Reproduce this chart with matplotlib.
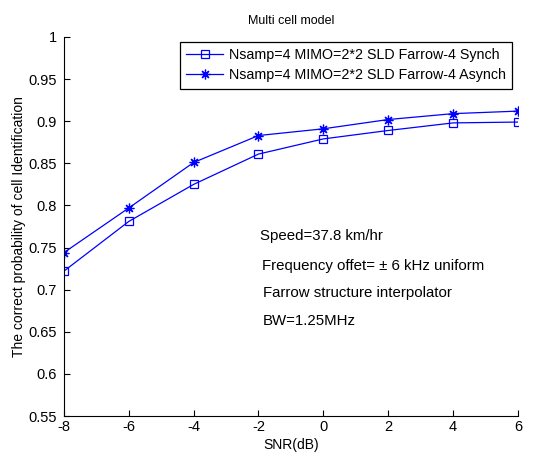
import numpy as np
import matplotlib
matplotlib.use("Agg")
import matplotlib.pyplot as plt

plt.rcParams['font.family'] = ['Liberation Sans', 'DejaVu Sans']
plt.rcParams['axes.unicode_minus'] = False

# valeurs
snr = [-8, -6, -4, -2, 0, 2, 4, 6]
synch = [0.722, 0.781, 0.825, 0.861, 0.879, 0.889, 0.898, 0.899]
asynch = [0.744, 0.797, 0.851, 0.883, 0.891, 0.902, 0.909, 0.912]
labels = ["Nsamp=4 MIMO=2*2 SLD Farrow-4 Synch",
          "Nsamp=4 MIMO=2*2 SLD Farrow-4 Asynch"]
xticks = [-8, -6, -4, -2, 0, 2, 4, 6]
yticks = [0.55, 0.6, 0.65, 0.7, 0.75, 0.8, 0.85, 0.9, 0.95, 1]
notes = ["Speed=37.8 km/hr",
         "Frequency offet= \u00b1 6 kHz uniform",
         "Farrow structure interpolator",
         "BW=1.25MHz"]

fig = plt.figure(figsize=(5.51, 4.55), dpi=100)
ax = fig.add_axes([0.116, 0.0857, 0.824, 0.833])

ax.plot(snr, synch, color='blue', lw=0.9, marker='s', markersize=6,
        markerfacecolor='none', markeredgecolor='blue', markeredgewidth=0.9,
        label=labels[0])
ax.plot(snr, asynch, color='blue', lw=0.9, marker=(8, 2, 0), markersize=7,
        markeredgewidth=0.9, label=labels[1])

ax.set_xlim(-8, 6)
ax.set_ylim(0.55, 1)
ax.set_xticks(xticks)
ax.set_yticks(yticks)
ax.set_yticklabels(["0.55", "0.6", "0.65", "0.7", "0.75", "0.8", "0.85", "0.9", "0.95", "1"])
ax.tick_params(direction='in', length=4, labelsize=10.5)
ax.tick_params(axis='y', pad=5)
ax.tick_params(axis='x', pad=3)
ax.spines['top'].set_visible(False)
ax.spines['right'].set_visible(False)

ax.set_title("Multi cell model", fontsize=9, pad=9)
ax.set_xlabel("SNR(dB)", fontsize=10, labelpad=3)
ax.set_ylabel("The correct probability of cell Identification", fontsize=10, labelpad=2)

leg = ax.legend(loc='upper right', bbox_to_anchor=(0.988, 0.988), borderaxespad=0,
                fontsize=10.3, fancybox=False, edgecolor='black', framealpha=1,
                borderpad=0.45, labelspacing=0.45, handlelength=2.6, handletextpad=0.4)
leg.get_frame().set_linewidth(0.9)

ypos = [0.475, 0.395, 0.325, 0.25]
xpos = [0.432, 0.436, 0.438, 0.438]
for t, xp, yp in zip(notes, xpos, ypos):
    ax.text(xp, yp, t, transform=ax.transAxes, fontsize=10.8, va='center', ha='left')

fig.savefig("out.png", dpi=100)
